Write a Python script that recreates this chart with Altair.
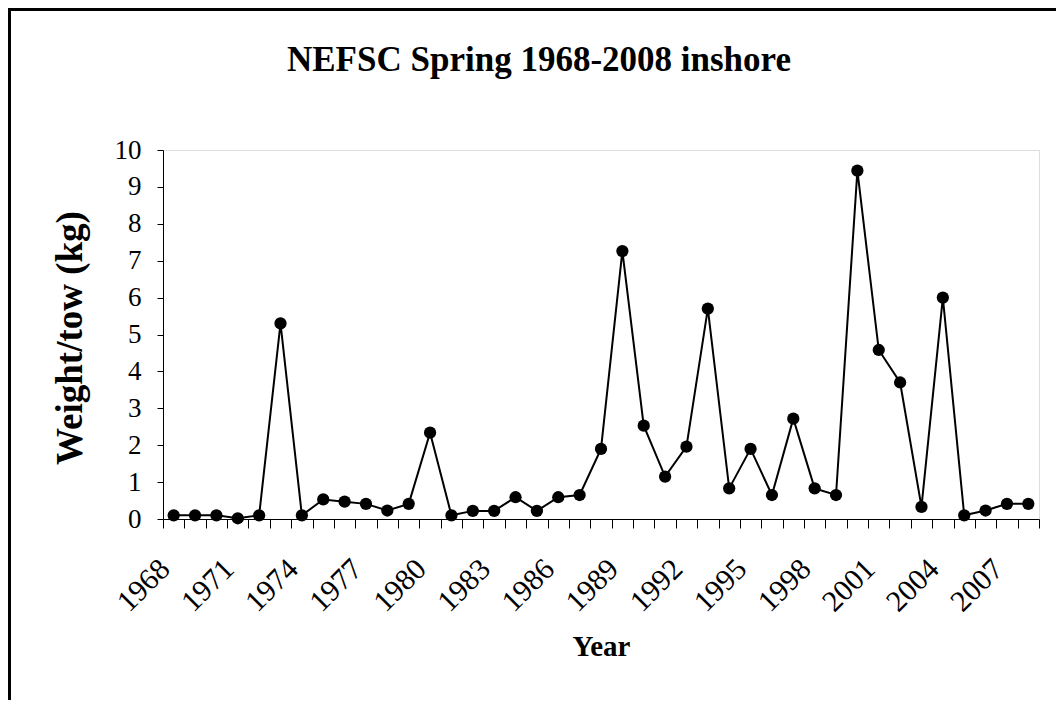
import altair as alt
import pandas as pd

years = list(range(1968, 2009))
weights = [0.1, 0.1, 0.1, 0.02, 0.1, 5.3, 0.1, 0.53, 0.47, 0.41,
           0.23, 0.41, 2.34, 0.1, 0.22, 0.22, 0.59, 0.22, 0.59, 0.65,
           1.9, 7.26, 2.53, 1.15, 1.96, 5.7, 0.83, 1.9, 0.65, 2.72,
           0.83, 0.65, 9.44, 4.58, 3.7, 0.33, 6.0, 0.1, 0.23, 0.41, 0.41]
y_ticks = list(range(0, 11))
x_boundaries = [1967.5 + i for i in range(42)]
title_text = "NEFSC Spring 1968-2008 inshore"

df = pd.DataFrame({"year": years, "weight": weights})

FONT = "Liberation Serif"
W, H = 876, 369
band = W / 41.0

x_enc = alt.X(
    "year:Q",
    scale=alt.Scale(domain=[1967.5, 2008.5], nice=False, zero=False),
    axis=alt.Axis(
        values=x_boundaries,
        labelExpr="((datum.value + 0.5 - 1968) % 3 == 0 && datum.value < 2008) ? format(datum.value + 0.5, 'd') : ''",
        labelOffset=band / 2 - 9,
        labelAngle=-45,
        labelAlign="right",
        labelBaseline="middle",
        labelPadding=36,
        labelOverlap=False,
        labelFlush=False,
        labelFontSize=30,
        labelFont=FONT,
        labelColor="black",
        tickSize=9,
        tickColor="black",
        domainColor="black",
        grid=False,
        title="Year",
        titleFont=FONT,
        titleFontSize=29,
        titleFontWeight="bold",
        titleColor="black",
        titleX=W / 2,
        titleY=136,
        titleAlign="center",
        titleBaseline="alphabetic",
    ),
)

y_enc = alt.Y(
    "weight:Q",
    scale=alt.Scale(domain=[0, 10], nice=False),
    axis=alt.Axis(
        values=y_ticks,
        format="d",
        labelFontSize=27,
        labelFont=FONT,
        labelColor="black",
        labelPadding=16,
        tickSize=6,
        tickColor="black",
        domainColor="black",
        grid=False,
        title="Weight/tow (kg)",
        titleFont=FONT,
        titleFontSize=37,
        titleFontWeight="bold",
        titleColor="black",
        titleAngle=-90,
        titleX=-82,
        titleY=H / 2 + 3,
        titleAlign="center",
        titleBaseline="alphabetic",
    ),
)

base = alt.Chart(df)
line = base.mark_line(color="black", strokeWidth=2).encode(x=x_enc, y=y_enc)
points = base.mark_circle(color="black", size=150, opacity=1).encode(x=x_enc, y=y_enc)

frame = alt.Chart(alt.Data(values=[{"f": 1}])).mark_rect(
    fillOpacity=0, stroke="black", strokeWidth=3
).encode(
    x=alt.value(-153.5), x2=alt.value(907),
    y=alt.value(-140.5), y2=alt.value(570),
)

title = alt.Chart(alt.Data(values=[{"t": title_text}])).mark_text(
    font=FONT, fontSize=35, fontWeight="bold", color="black",
    align="left", baseline="alphabetic",
).encode(
    x=alt.value(124), y=alt.value(-79), text="t:N",
)

chart = alt.layer(line, points, frame, title).properties(
    width=W,
    height=H,
    autosize=alt.AutoSizeParams(type="none"),
    padding={"left": 155, "top": 142, "right": 17, "bottom": 181},
).configure_view(stroke=None).configure(background="white")

chart.save("out.html", embed_options={"renderer": "svg", "actions": False})
